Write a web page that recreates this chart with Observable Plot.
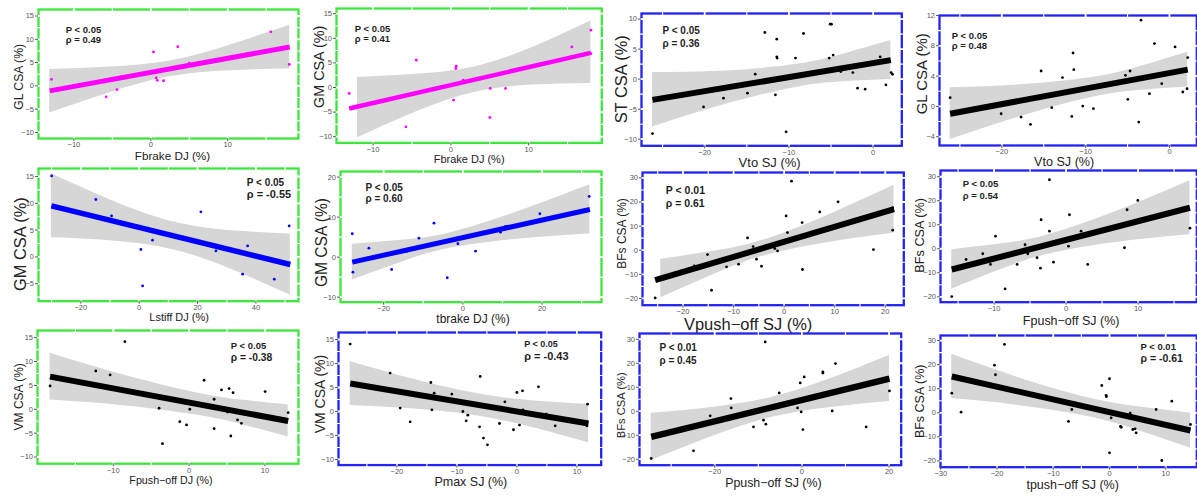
<!DOCTYPE html>
<html><head><meta charset="utf-8">
<script src="https://cdn.jsdelivr.net/npm/d3@7"></script>
<script src="https://cdn.jsdelivr.net/npm/@observablehq/plot@0.6"></script>
<style>
html,body{margin:0;padding:0;background:#fff;}
#chart{position:relative;width:1197px;height:496px;overflow:hidden;background:#fff;font-family:"Liberation Sans",Arial,sans-serif;}
.panel{position:absolute;}
</style></head><body><div id="chart"></div>
<script>
// ---------------- DATA ----------------
const xLabels = ["Fbrake DJ (%)","Fbrake DJ (%)","Vto SJ (%)","Vto SJ (%)","Lstiff DJ (%)","tbrake DJ (%)","Vpush\u2212off SJ (%)","Fpush\u2212off SJ (%)","Fpush\u2212off DJ (%)","Pmax SJ (%)","Ppush\u2212off SJ (%)","tpush\u2212off SJ (%)"];
const yLabels = ["GL CSA (%)","GM CSA (%)","ST CSA (%)","GL CSA (%)","GM CSA (%)","GM CSA (%)","BFs CSA (%)","BFs CSA (%)","VM CSA (%)","VM CSA (%)","BFs CSA (%)","BFs CSA (%)"];
const pLabels = ["P < 0.05","P < 0.05","P < 0.05","P < 0.05","P < 0.05","P < 0.05","P < 0.01","P < 0.05","P < 0.05","P < 0.05","P < 0.01","P < 0.01"];
const rhoLabels = ["\u03c1 = 0.49","\u03c1 = 0.41","\u03c1 = 0.36","\u03c1 = 0.48","\u03c1 = -0.55","\u03c1 = 0.60","\u03c1 = 0.61","\u03c1 = 0.54","\u03c1 = -0.38","\u03c1 = -0.43","\u03c1 = 0.45","\u03c1 = -0.61"];

const xTicks = [[-10,0,10],[-10,0,10],[-20,-10,0],[-20,-10,0],[-20,0,20,40],[-20,0,20],[-20,-10,0,10,20],[-10,0,10],[-10,0,10],[-20,-10,0,10],[-20,0,20],[-30,-20,-10,0,10]];
const yTicks = [[-10,-5,0,5,10,15],[-10,-5,0,5,10,15],[-10,-5,0,5,10],[-4,0,4,8,12],[-5,0,5,10,15],[-10,0,10,20],[-20,-10,0,10,20,30],[-20,-10,0,10,20,30],[-10,-5,0,5,10,15],[-10,-5,0,5,10,15],[-20,-10,0,10,20,30],[-20,-10,0,10,20,30]];

const pointX = [
 [-12.9,-5.8,-4.4,0.35,0.7,0.85,1.65,3.5,5.0,15.6,18.0],
 [-13.07,-5.78,-4.45,0.35,0.64,0.69,1.58,5.05,5.01,7.03,15.55,18.0,18.0],
 [-26.2,-20.14,-17.77,-14.92,-14.0,-12.86,-11.6,-11.44,-11.44,-11.4,-10.33,-9.22,-8.27,-5.1,-4.95,-5.22,-4.75,-3.84,-2.41,-1.85,-0.95,0.83,1.51,2.14,2.3],
 [-26.16,-20.08,-17.7,-16.58,-15.31,-14.04,-12.76,-11.65,-11.5,-11.41,-10.34,-9.07,-5.25,-4.7,-4.97,-3.66,-3.39,-2.39,-1.79,-0.92,0.67,1.59,2.1,2.18],
 [-30.0,-14.85,-9.47,0.58,1.17,4.59,21.15,26.3,35.45,37.16,46.3,51.4],
 [-27.93,-27.77,-23.73,-18.0,-14.2,-11.1,-7.3,-3.94,-1.26,3.2,9.52,10.78,19.44,31.9],
 [-25.5,-14.35,-15.14,-17.78,-11.38,-9.0,-7.23,-6.12,-5.46,-4.47,-1.84,-1.3,0.4,0.66,1.46,3.56,3.63,7.05,10.67,17.66,21.48,21.48],
 [-15.88,-13.89,-11.57,-10.5,-9.8,-8.47,-6.8,-5.7,-5.32,-4.03,-3.56,-3.47,-2.31,-2.31,-1.75,0.47,0.33,2.08,3.0,8.1,8.47,9.96,17.2],
 [-18.34,-12.31,-10.42,-8.48,-3.96,-3.51,-1.23,-0.34,0.09,1.98,3.3,3.3,4.27,5.28,5.5,5.8,5.07,6.39,6.9,10.03,13.07],
 [-27.78,-21.12,-19.45,-17.78,-14.34,-14.17,-13.78,-10.84,-9.0,-8.45,-8.17,-6.22,-6.12,-5.57,-4.9,-2.9,-2.0,-0.57,0.0,0.44,1.0,0.94,3.6,4.89,6.39,11.78,11.67],
 [-34.56,-24.86,-21.03,-16.28,-16.21,-11.1,-8.8,-8.42,-8.26,-5.2,-1.0,-0.39,-0.16,0.23,0.53,4.82,4.82,6.95,7.71,14.75,20.09],
 [-28.04,-26.38,-20.44,-20.27,-18.67,-7.29,-6.7,-1.37,-0.6,-0.55,0.0,0.0,0.3,1.95,2.1,3.67,4.14,4.56,4.74,8.29,9.3,11.08,14.4]
];
const pointY = [
 [1.4,-2.35,-0.8,7.3,1.7,1.2,1.1,8.4,4.9,11.6,4.6],
 [-1.22,-8.0,5.55,-2.58,3.86,4.33,1.48,-0.2,-6.1,-0.2,8.25,11.65,6.9],
 [-9.07,-4.62,-3.17,-2.34,0.83,7.77,-2.61,6.66,3.72,3.5,-8.78,3.5,7.6,9.16,9.16,3.5,4.0,1.27,1.1,-1.5,-1.67,3.72,-0.95,1.1,0.8],
 [1.15,-0.97,-1.41,-2.38,4.67,-0.17,3.8,-1.32,7.05,4.85,0.04,-0.3,4.1,4.67,0.93,-2.07,11.38,1.68,8.29,3.0,7.85,1.9,2.34,6.44],
 [15.11,10.71,7.65,1.38,-5.41,3.12,8.4,1.12,-3.23,2.05,-4.16,5.78],
 [5.85,-3.75,2.25,-3.08,1.43,4.75,8.5,-5.15,3.35,1.5,6.25,7.68,10.85,15.17],
 [-19.8,-16.6,-1.8,-6.5,-6.9,-5.8,5.1,1.52,-3.73,-6.64,0.7,-0.3,14.23,7.33,28.63,11.48,-8.0,15.9,20.06,0.27,8.3,17.55],
 [-19.9,-4.46,-2.08,-6.54,5.25,-16.67,-6.54,1.67,-2.08,-3.75,-8.08,12.08,7.33,28.75,-5.58,14.17,1.08,7.33,-6.54,0.42,16.25,20.13,8.58],
 [4.88,8.02,7.19,14.16,0.21,-7.2,-2.6,-3.29,0.0,6.08,2.1,-4.06,4.05,4.33,-5.6,3.48,-0.57,-2.24,-2.94,3.7,-0.71],
 [14.04,8.0,0.7,-2.15,6.04,0.35,3.82,3.62,0.0,-1.94,-0.76,-3.19,7.29,-5.55,-6.94,-2.5,2.02,-3.81,3.96,-2.84,0.35,4.31,5.14,-0.55,-2.98,1.53,-2.98],
 [-19.72,-16.53,-1.94,5.28,1.39,-6.53,-3.75,28.88,-5.42,7.64,1.39,11.81,-0.28,-7.64,14.31,16.39,15.9,0.14,19.86,-6.53,8.47],
 [8.14,0.25,19.78,15.79,28.38,-3.61,1.37,11.34,7.19,6.7,14.13,-16.62,-2.08,-5.69,-6.0,-0.17,-6.94,-6.65,-8.31,1.37,-19.82,4.82,-4.86]
];

// fitted regression line end points
const fitX = [[-13.15,18.06],[-13.07,18.0],[-26.2,2.1],[-26.16,2.18],[-30.1,51.8],[-27.93,32.07],[-25.5,21.74],[-15.88,17.2],[-18.34,13.07],[-27.78,11.94],[-34.56,20.09],[-28.04,14.4]];
const fitY = [[-1.07,8.36],[-4.27,7.04],[-3.45,3.17],[-0.97,4.85],[9.52,-1.42],[-1.25,11.92],[-12.45,17.0],[-8.63,17.08],[6.84,-2.45],[5.84,-2.5],[-10.69,13.6],[15.08,-7.35]];

// confidence band (read at five x positions)
const bandX = [
 [-13.15,-5.35,2.45,10.26,18.06],[-12,-4.5,3.0,10.5,18.0],[-26.2,-17.6,-9.0,-3.45,2.1],[-26.16,-17.3,-8.49,-3.16,2.18],
 [-30.1,-9.05,12.0,31.9,51.8],[-27.93,-15.67,-3.4,14.33,32.07],[-24.4,-14.3,-4.2,8.77,21.74],[-15.88,-9.16,-2.44,7.38,17.2],
 [-18.34,-8.29,1.76,7.42,13.07],[-27.78,-16.9,-6.05,2.94,11.94],[-34.56,-20.69,-6.81,6.64,20.09],[-28.04,-15.85,-3.66,5.37,14.4]
];
const bandLo = [
 [-5.8,-1.46,1.94,3.25,3.7],[-10.24,-4.98,-1.02,0.48,0.81],[-7.95,-4.23,-1.33,-0.44,-0.08],[-4.37,-1.19,1.36,2.14,2.55],
 [3.55,2.97,1.3,-2.39,-7.12],[-5.72,-1.33,2.23,4.53,5.76],[-19.76,-10.39,-2.47,3.2,7.1],[-16.83,-8.78,-2.19,2.86,5.88],
 [1.94,0.71,-1.41,-3.38,-5.8],[1.26,0.52,-1.02,-3.43,-6.5],[-20.54,-10.64,-2.56,1.6,4.0],[5.88,2.93,-1.7,-7.54,-14.65]
];
const bandHi = [
 [3.5,4.04,5.34,8.75,13.0],[2.03,2.68,4.18,8.14,13.5],[1.1,1.35,2.47,4.18,6.42],[2.47,2.89,3.96,5.36,7.15],
 [15.49,10.45,6.5,4.87,4.28],[3.22,4.21,6.03,11.51,18.08],[-3.76,-0.55,4.13,14.64,26.9],[-0.43,1.96,5.81,16.02,28.28],
 [11.74,7.03,3.19,1.82,0.9],[10.42,6.6,3.58,2.21,1.5],[-0.84,1.6,5.84,13.64,23.2],[24.28,14.35,6.1,2.4,-0.05]
];

// ---------------- LAYOUT / STYLE ----------------
const frames = [
 [37.7,9.3,297.7,138.3],[335.7,8.3,601,142.7],[640.7,12.7,901,145],[938.7,15,1196,145],
 [37.7,168.3,297.7,301],[340,171,601,301.7],[641.7,172.3,903,305],[939.7,170,1196,301.7],
 [36.7,329.5,297.7,462.7],[338.3,331.7,601,464.3],[639.3,333.3,901,465],[939.7,335,1196,466.7]
];
const xDomains = [[-14.6,19.2],[-14.7,19.4],[-27.5,3.4],[-27.43,3.26],[-34.5,54.6],[-30.9,35.0],[-28.0,23.66],[-17.44,18.15],[-20.0,14.43],[-29.73,14.05],[-37.25,22.78],[-30.04,15.52]];
const yDomains = [[-11.3,16.4],[-11.26,16.05],[-11.1,10.93],[-5.16,12.0],[-8.26,16.49],[-11.25,21.4],[-22.8,32.24],[-22.25,32.6],[-11.4,16.5],[-11.17,16.46],[-22.5,32.4],[-22.6,32.1]];
const GREEN = "#3de63d", BLUE = "#2323f2";
const borderColors = [GREEN,GREEN,BLUE,BLUE,GREEN,GREEN,BLUE,BLUE,GREEN,BLUE,BLUE,BLUE];
const markColors = ["#ff00ff","#ff00ff","#000","#000","#0000ff","#0000ff","#000","#000","#000","#000","#000","#000"];
const lineWidths = [5,4.5,6,6,5.5,5,6,6,6,6,6.5,6];
// annotation: [x, y line1, y line2, size1, size2] in page px
const annos = [
 [65,30,39.3,9.5,9.5],[354,28.3,38.3,9.5,9.5],[661.7,30,42.7,10,10],[951,35,45,9.5,9.5],
 [246,182.3,193.8,10,11],[365,187.7,198.3,10,10],[665,190,203.3,10.5,10.5],[962,183.3,195,9.5,9.5],
 [230,345,356.3,9.5,10.3],[524,343.3,355.3,9,11],[659.3,347.3,360.7,10,10],[1139.7,346,358.3,9.5,10.5]
];
const xLabDx = [4,0,-2,-4,10.6,2,-25,2.5,3,1,3,4];
const xLabDy = [17.7,17,17,16,16.5,17.3,19.5,19.3,17,16.5,17.7,18.3];
const xLabFs = [11.7,11,13,12.6,11,12,16.5,12.5,10.7,12.5,12.4,12.5];
const yLabDx = [-19.4,-17.4,-20,-17.7,-17.7,-18.3,-20,-21,-18.4,-18.3,-17.6,-21];
const yLabDy = [2.9,-8.8,-0.5,-6.7,9.3,5.7,-5.4,-1,-0.3,-4.7,6,0];
const yLabFs = [12.2,14.4,16.4,15,16.4,15.6,12,12.7,12,14,11.2,12.5];

const FONT = "'Liberation Sans', Arial, Helvetica, sans-serif";
const ML = 44, MT = 8, MR = 6, MB = 36;

function gridLines(ticks, d) {
  const s = ticks[1] - ticks[0];
  const pad = 0.02 * (d[1] - d[0]);
  const major = [], minor = [];
  for (let k = -3; k <= ticks.length + 2; k++) {
    const t = ticks[0] + k * s;
    if (t > d[0] + pad && t < d[1] - pad) major.push(t);
    const m = t + s / 2;
    if (m > d[0] + pad && m < d[1] - pad) minor.push(m);
  }
  return {major, minor};
}

const chart = document.getElementById("chart");
for (let i = 0; i < 12; i++) {
  const [L, T, R, B] = frames[i];
  const W = R - L + ML + MR, H = B - T + MT + MB;
  const pts = pointX[i].map((x, j) => ({x, y: pointY[i][j]}));
  const fit = fitX[i].map((x, j) => ({x, y: fitY[i][j]}));
  const band = bandX[i].map((x, j) => ({x, lo: bandLo[i][j], hi: bandHi[i][j]}));
  const gx = gridLines(xTicks[i], xDomains[i]);
  const gy = gridLines(yTicks[i], yDomains[i]);
  const col = markColors[i];
  const [ax, ay1, ay2, fs1, fs2] = annos[i];
  const plot = Plot.plot({
    width: W, height: H,
    marginLeft: ML, marginRight: MR, marginTop: MT, marginBottom: MB,
    x: {domain: xDomains[i]},
    y: {domain: yDomains[i]},
    style: {background: "transparent", overflow: "visible", fontFamily: FONT, maxWidth: "none"},
    marks: [
      Plot.frame({stroke: borderColors[i], strokeWidth: 2.3}),
      Plot.ruleX(gx.major, {stroke: "white", strokeWidth: 1.8, insetTop: -2.5, insetBottom: -2.5}),
      Plot.ruleX(gx.minor, {stroke: "white", strokeWidth: 1.1, insetTop: -2.5, insetBottom: -2.5}),
      Plot.ruleY(gy.major, {stroke: "white", strokeWidth: 1.8, insetLeft: -2.5, insetRight: -2.5}),
      Plot.ruleY(gy.minor, {stroke: "white", strokeWidth: 1.1, insetLeft: -2.5, insetRight: -2.5}),
      Plot.areaY(band, {x: "x", y1: "lo", y2: "hi", fill: "#d6d6d6", curve: "natural"}),
      Plot.dot(pts, {x: "x", y: "y", r: 1.4, fill: col, stroke: null}),
      Plot.line(fit, {x: "x", y: "y", stroke: col, strokeWidth: lineWidths[i], strokeLinecap: "butt"}),
      Plot.text([pLabels[i]], {text: d => d, frameAnchor: "top-left", dx: ax - L, dy: ay1 - T, textAnchor: "start", lineAnchor: "middle", fontSize: fs1, fontWeight: "bold", fill: "#1e1e1e"}),
      Plot.text([rhoLabels[i]], {text: d => d, frameAnchor: "top-left", dx: ax - L, dy: ay2 - T, textAnchor: "start", lineAnchor: "middle", fontSize: fs2, fontWeight: "bold", fill: "#1e1e1e"}),
      Plot.axisX(xTicks[i], {tickSize: 3, tickPadding: 0.5, fontSize: 7.5, color: "#555", label: null}),
      Plot.axisY(yTicks[i], {tickSize: 3, tickPadding: 1.5, fontSize: 7.5, color: "#555", label: null}),
      Plot.text([xLabels[i]], {text: d => d, frameAnchor: "bottom", dx: xLabDx[i], dy: xLabDy[i], textAnchor: "middle", lineAnchor: "middle", fontSize: xLabFs[i], fill: "#222"}),
      Plot.text([yLabels[i]], {text: d => d, frameAnchor: "left", dx: yLabDx[i], dy: yLabDy[i], rotate: -90, textAnchor: "middle", lineAnchor: "middle", fontSize: yLabFs[i], fill: "#222"})
    ]
  });
  const div = document.createElement("div");
  div.className = "panel";
  div.style.left = (L - ML) + "px";
  div.style.top = (T - MT) + "px";
  div.style.width = W + "px";
  div.style.height = H + "px";
  div.appendChild(plot);
  chart.appendChild(div);
}
</script>
</body></html>
